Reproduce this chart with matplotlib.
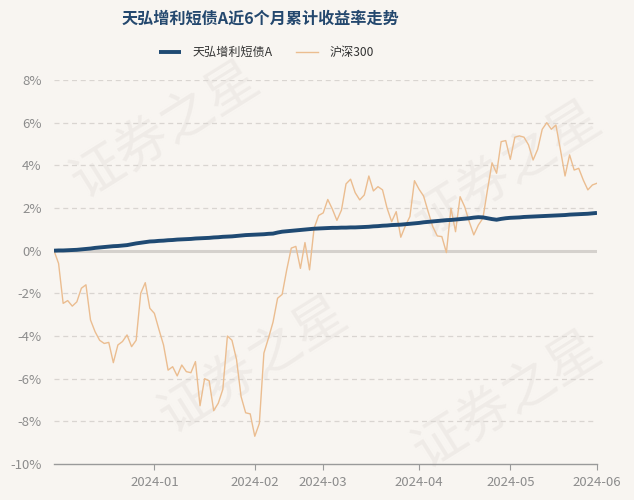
import matplotlib
matplotlib.use("Agg")
import matplotlib.pyplot as plt

plt.rcParams['font.family'] = ['Noto Sans CJK SC', 'DejaVu Sans']

# cumulative return (%), one value per trading day, Dec 2023 - May 2024
fund_name = "天弘增利短债A"
index_name = "沪深300"

fund = [0.00, 0.01, 0.01, 0.02, 0.03, 0.04, 0.06, 0.08, 0.10, 0.13,
        0.15, 0.17, 0.19, 0.21, 0.22, 0.24, 0.26, 0.30, 0.34, 0.37,
        0.40, 0.43, 0.44, 0.46, 0.47, 0.49, 0.50, 0.52, 0.53, 0.54,
        0.55, 0.57, 0.58, 0.59, 0.60, 0.62, 0.63, 0.65, 0.66, 0.67,
        0.69, 0.71, 0.73, 0.74, 0.75, 0.76, 0.77, 0.79, 0.80, 0.85,
        0.89, 0.91, 0.93, 0.95, 0.97, 0.99, 1.01, 1.03, 1.04, 1.05,
        1.06, 1.07, 1.07, 1.08, 1.08, 1.09, 1.09, 1.10, 1.11, 1.12,
        1.14, 1.15, 1.17, 1.18, 1.20, 1.21, 1.22, 1.24, 1.26, 1.28,
        1.30, 1.33, 1.35, 1.37, 1.39, 1.41, 1.43, 1.44, 1.46, 1.48,
        1.50, 1.52, 1.55, 1.57, 1.56, 1.52, 1.48, 1.45, 1.49, 1.52,
        1.54, 1.55, 1.56, 1.58, 1.59, 1.60, 1.61, 1.62, 1.63, 1.64,
        1.65, 1.66, 1.67, 1.69, 1.70, 1.71, 1.72, 1.73, 1.75, 1.77]

hs300 = [0.00, -0.60, -2.47, -2.34, -2.60, -2.40, -1.76, -1.60, -3.25, -3.80,
         -4.20, -4.35, -4.30, -5.25, -4.42, -4.26, -3.95, -4.50, -4.20, -2.00,
         -1.50, -2.70, -2.94, -3.70, -4.42, -5.60, -5.44, -5.87, -5.36, -5.67,
         -5.72, -5.20, -7.27, -6.00, -6.10, -7.50, -7.15, -6.50, -4.00, -4.20,
         -5.10, -6.84, -7.60, -7.65, -8.70, -8.10, -4.80, -4.10, -3.35, -2.23,
         -2.05, -0.90, 0.12, 0.20, -0.83, 0.38, -0.90, 1.05, 1.65, 1.77,
         2.40, 1.95, 1.42, 1.90, 3.13, 3.35, 2.72, 2.38, 2.61, 3.50,
         2.80, 3.00, 2.85, 1.99, 1.36, 1.83, 0.63, 1.16, 1.60, 3.28,
         2.88, 2.56, 1.83, 1.13, 0.69, 0.66, -0.09, 1.99, 0.89, 2.53,
         2.06, 1.36, 0.74, 1.20, 1.52, 2.85, 4.12, 3.63, 5.11, 5.16,
         4.28, 5.32, 5.38, 5.32, 4.96, 4.25, 4.75, 5.69, 6.00, 5.69,
         5.89, 4.72, 3.50, 4.49, 3.78, 3.86, 3.31, 2.85, 3.08, 3.16]

# month ticks: index of the first trading day of each month
month_idx = [22, 44, 59, 80, 100, 119]
month_labels = ["2024-01", "2024-02", "2024-03", "2024-04", "2024-05", "2024-06"]
y_ticks = [8, 6, 4, 2, 0, -2, -4, -6, -8, -10]

bg = '#f8f5f1'
grey = '#8c8c8c'

fig = plt.figure(figsize=(6.34, 5), dpi=100, facecolor=bg)
ax = fig.add_axes([0.0852, 0.072, 0.8564, 0.768])
ax.set_facecolor(bg)

# faint watermark behind the lines
for wx, wy in [(0.26, 0.74), (0.40, 0.27), (0.80, 0.66), (0.80, 0.20)]:
    ax.text(wx, wy, "证券之星", fontsize=38, color='#efebe7', rotation=32,
            ha='center', va='center', zorder=0, transform=fig.transFigure,
            clip_on=False)

x = list(range(len(fund)))

# grid lines
for v in y_ticks:
    if v == 0:
        ax.axhline(v, color='#d5d1cd', lw=2.2, zorder=1)
    elif v != -10:
        ax.axhline(v, color='#d9d5d1', lw=0.9, ls=(0, (4, 3)), zorder=1)

ax.plot(x, hs300, color='#ebbd90', lw=1.0, label=index_name, zorder=2)
ax.plot(x, fund, color='#1f4a73', lw=2.8, label=fund_name, zorder=3,
        solid_capstyle='butt')

ax.set_xlim(0, len(fund) - 1)
ax.set_ylim(-10, 8)
ax.set_yticks(y_ticks)
ax.set_yticklabels(["{}%".format(v) for v in y_ticks])
ax.set_xticks(month_idx)
ax.set_xticklabels(month_labels)

for s in ['top', 'right', 'left']:
    ax.spines[s].set_visible(False)
ax.spines['bottom'].set_color('#9a9a9a')
ax.spines['bottom'].set_linewidth(1.0)
ax.tick_params(axis='y', length=0, pad=9, labelsize=9.5, labelcolor=grey)
ax.tick_params(axis='x', length=4, color='#9a9a9a', pad=5, labelsize=9.5,
               labelcolor=grey)

fig.text(0.41, 0.963, "天弘增利短债A近6个月累计收益率走势", ha='center', va='center',
         fontsize=11.6, fontweight='bold', color='#24486e')

handles, labels = ax.get_legend_handles_labels()
fig.legend(handles[::-1], labels[::-1], loc='center', bbox_to_anchor=(0.42, 0.895),
           ncol=2, frameon=False, fontsize=8.7, handlelength=1.85, handletextpad=0.95,
           columnspacing=1.9, labelcolor='#333333')

plt.savefig("out.png", dpi=100, facecolor=bg)
